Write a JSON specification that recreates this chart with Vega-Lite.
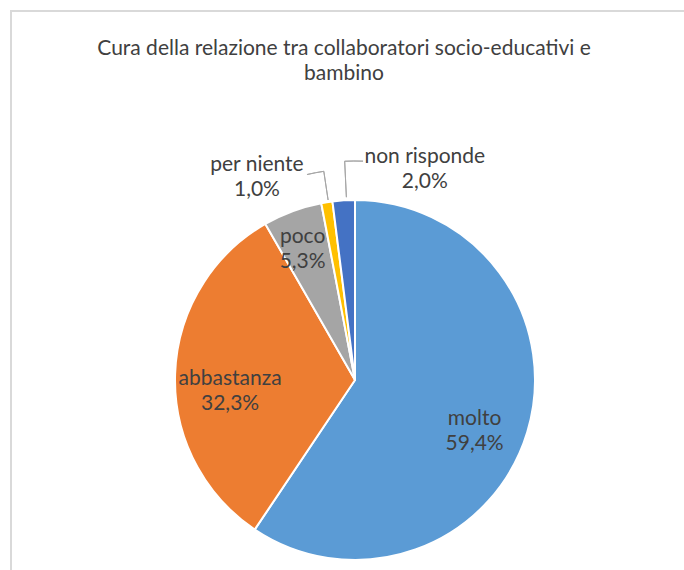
{
  "$schema": "https://vega.github.io/schema/vega-lite/v6.json",
  "width": 688,
  "height": 738,
  "autosize": {"type": "none"},
  "padding": {"left": 11, "top": 11, "right": -15, "bottom": -179},
  "background": "white",
  "config": {"view": {"stroke": null}, "font": "Lato"},
  "title": {
    "text": ["Cura della relazione tra collaboratori socio-educativi e", "bambino"],
    "fontSize": 21,
    "fontWeight": "normal",
    "font": "Lato",
    "color": "#404040",
    "anchor": "middle",
    "baseline": "top",
    "offset": -74,
    "dx": -11,
    "lineHeight": 25
  },
  "data": {
    "values": [
      {"cat": "molto", "value": 59.4, "i": 1, "label": "molto\n59,4%"},
      {"cat": "abbastanza", "value": 32.3, "i": 2, "label": "abbastanza\n32,3%"},
      {"cat": "poco", "value": 5.3, "i": 3, "label": "poco\n5,3%"},
      {"cat": "per niente", "value": 1.0, "i": 4, "label": "per niente\n1,0%"},
      {"cat": "non risponde", "value": 2.0, "i": 5, "label": "non risponde\n2,0%"}
    ]
  },
  "resolve": {"scale": {"theta": "independent"}},
  "layer": [
    {
      "data": {"values": [{"frame": "border"}]},
      "mark": {"type": "rect", "filled": false, "fill": "transparent", "stroke": "#D9D9D9", "strokeWidth": 2},
      "encoding": {}
    },
    {
      "mark": {"type": "arc", "outerRadius": 180, "stroke": "white", "strokeWidth": 2},
      "encoding": {
        "theta": {"field": "value", "type": "quantitative", "stack": true},
        "order": {"field": "i", "type": "quantitative"},
        "color": {
          "field": "cat",
          "type": "nominal",
          "scale": {
            "domain": ["molto", "abbastanza", "poco", "per niente", "non risponde"],
            "range": ["#5B9BD5", "#ED7D31", "#A5A5A5", "#FFC000", "#4472C4"]
          },
          "legend": null
        }
      }
    },
    {
      "mark": {"type": "arc", "radius": 211, "radius2": 182, "padAngle": 0.2, "filled": false, "fill": "transparent", "stroke": "#A6A6A6", "strokeWidth": 1},
      "encoding": {
        "theta": {"field": "value", "type": "quantitative", "stack": true, "scale": {"domain": [0, 100], "range": [0.0087, 6.2919]}},
        "order": {"field": "i", "type": "quantitative"},
        "detail": {"field": "cat", "type": "nominal"},
        "opacity": {"condition": {"test": "datum.cat === 'per niente'", "value": 1}, "value": 0}
      }
    },
    {
      "mark": {"type": "arc", "radius": 211, "radius2": 211, "filled": false, "fill": "transparent", "stroke": "#A6A6A6", "strokeWidth": 1},
      "encoding": {
        "theta": {"field": "value", "type": "quantitative", "stack": true, "scale": {"domain": [0, 100], "range": [-1.8186, 6.2971]}},
        "order": {"field": "i", "type": "quantitative"},
        "detail": {"field": "cat", "type": "nominal"},
        "opacity": {"condition": {"test": "datum.cat === 'per niente'", "value": 1}, "value": 0}
      }
    },
    {
      "mark": {"type": "arc", "radius": 219, "radius2": 183, "padAngle": 0.2, "filled": false, "fill": "transparent", "stroke": "#A6A6A6", "strokeWidth": 1},
      "encoding": {
        "theta": {"field": "value", "type": "quantitative", "stack": true, "scale": {"domain": [0, 100], "range": [0.0157, 6.2989]}},
        "order": {"field": "i", "type": "quantitative"},
        "detail": {"field": "cat", "type": "nominal"},
        "opacity": {"condition": {"test": "datum.cat === 'non risponde'", "value": 1}, "value": 0}
      }
    },
    {
      "mark": {"type": "arc", "radius": 219, "radius2": 219, "filled": false, "fill": "transparent", "stroke": "#A6A6A6", "strokeWidth": 1},
      "encoding": {
        "theta": {"field": "value", "type": "quantitative", "stack": true, "scale": {"domain": [0, 100], "range": [2.1311, 6.3198]}},
        "order": {"field": "i", "type": "quantitative"},
        "detail": {"field": "cat", "type": "nominal"},
        "opacity": {"condition": {"test": "datum.cat === 'non risponde'", "value": 1}, "value": 0}
      }
    },
    {
      "mark": {"type": "text", "radius": 125, "dy": 3, "fontSize": 21, "lineHeight": 25, "lineBreak": "\n", "color": "#404040", "align": "center", "baseline": "middle"},
      "encoding": {
        "theta": {"field": "value", "type": "quantitative", "stack": true},
        "order": {"field": "i", "type": "quantitative"},
        "detail": {"field": "cat", "type": "nominal"},
        "text": {"condition": {"test": "datum.cat === 'molto' || datum.cat === 'abbastanza'", "field": "label"}, "value": ""}
      }
    },
    {
      "mark": {"type": "text", "radius": 142, "dx": -3, "dy": -10, "fontSize": 21, "lineHeight": 25, "lineBreak": "\n", "color": "#404040", "align": "center", "baseline": "middle"},
      "encoding": {
        "theta": {"field": "value", "type": "quantitative", "stack": true},
        "order": {"field": "i", "type": "quantitative"},
        "detail": {"field": "cat", "type": "nominal"},
        "text": {"condition": {"test": "datum.cat === 'poco'", "field": "label"}, "value": ""}
      }
    },
    {
      "mark": {"type": "text", "radius": 205, "dx": -66, "dy": -13, "fontSize": 21, "lineHeight": 25, "lineBreak": "\n", "color": "#404040", "align": "center", "baseline": "middle"},
      "encoding": {
        "theta": {"field": "value", "type": "quantitative", "stack": true},
        "order": {"field": "i", "type": "quantitative"},
        "detail": {"field": "cat", "type": "nominal"},
        "text": {"condition": {"test": "datum.cat === 'per niente'", "field": "label"}, "value": ""}
      }
    },
    {
      "mark": {"type": "text", "radius": 210, "dx": 83, "dy": -13, "fontSize": 21, "lineHeight": 25, "lineBreak": "\n", "color": "#404040", "align": "center", "baseline": "middle"},
      "encoding": {
        "theta": {"field": "value", "type": "quantitative", "stack": true},
        "order": {"field": "i", "type": "quantitative"},
        "detail": {"field": "cat", "type": "nominal"},
        "text": {"condition": {"test": "datum.cat === 'non risponde'", "field": "label"}, "value": ""}
      }
    }
  ]
}
